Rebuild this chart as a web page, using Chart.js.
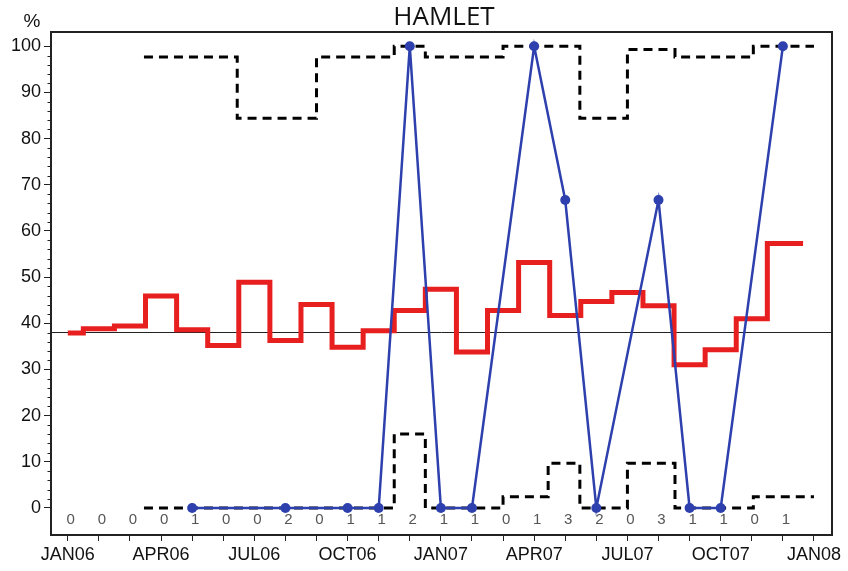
<!DOCTYPE html>
<html><head><meta charset="utf-8">
<script src="https://cdn.jsdelivr.net/npm/chart.js@4"></script>
<style>html,body{margin:0;padding:0;background:#fff}canvas{display:block}</style>
</head><body>
<canvas id="c" width="848" height="571"></canvas>
<script>
// month index 0 = JAN06 ... 23 = DEC07
const months = [0,1,2,3,4,5,6,7,8,9,10,11,12,13,14,15,16,17,18,19,20,21,22,23];
const counts = [0,0,0,0,1,0,0,2,0,1,1,2,1,1,0,1,3,2,0,3,1,1,0,1];
const redRate = [37.9,38.8,39.4,45.9,38.6,35.2,48.9,36.3,44.1,34.8,38.4,42.8,47.4,33.8,42.8,53.2,41.7,44.7,46.7,43.8,31.0,34.3,41.0,57.3];
const redEndMonth = 23.65;
const bluePct = [null,null,null,null,0,null,null,0,null,0,0,100,0,0,null,100,66.7,0,null,66.7,0,0,null,100];
const limitBreaks = [2.45,5.45,8.0,10.5,11.5,14.0,15.45,16.47,18.0,19.53,22.05,24.0];
const upperLimit = [97.7,84.4,97.7,100,97.7,100,100,84.4,99.3,97.7,100];
const lowerLimit = [0,0,0,16.0,0,2.45,9.7,0,9.7,0,2.45];
const centreLine = 38.2;
const quarterLabels = ['JAN06','APR06','JUL06','OCT06','JAN07','APR07','JUL07','OCT07','JAN08'];
const titleText = 'HAMLET';
const yUnit = '%';

const BLUE = '#2d40ad';
const RED = '#e81f1f';
const TICKFONT = {family: "'Liberation Sans', Arial, sans-serif", size: 18};

function stepPoints(breaks, vals) {
  const pts = vals.map((v, i) => ({x: breaks[i], y: v}));
  pts.push({x: breaks[breaks.length - 1], y: vals[vals.length - 1]});
  return pts;
}
const bluePts = months.map((m, i) => ({x: m, y: bluePct[i]})).filter(p => p.y !== null);
const redPts = months.map((m, i) => ({x: m, y: redRate[i]}));
redPts.push({x: redEndMonth, y: redRate[redRate.length - 1]});

const decor = {
  id: 'decor',
  beforeDatasetsDraw(chart) {
    const {ctx, chartArea: a, scales: {y}} = chart;
    const yy = Math.round(y.getPixelForValue(centreLine)) + 0.5;
    ctx.save();
    ctx.strokeStyle = '#222';
    ctx.lineWidth = 1;
    ctx.beginPath(); ctx.moveTo(a.left, yy); ctx.lineTo(a.right, yy); ctx.stroke();
    ctx.restore();
  },
  afterDraw(chart) {
    const {ctx, chartArea: a, scales: {x, y}} = chart;
    ctx.save();
    ctx.strokeStyle = '#222';
    ctx.lineWidth = 2;
    ctx.strokeRect(a.left, a.top, a.right - a.left, a.bottom - a.top);
    ctx.lineWidth = 1;
    for (let v = 0; v <= 100; v += 2) {
      if (v % 10 === 0) continue;
      const py = Math.round(y.getPixelForValue(v)) + 0.5;
      ctx.beginPath(); ctx.moveTo(a.left - 3.5, py); ctx.lineTo(a.left, py); ctx.stroke();
    }
    ctx.fillStyle = '#555';
    ctx.font = "15px 'Liberation Sans', Arial, sans-serif";
    ctx.textAlign = 'center';
    ctx.textBaseline = 'middle';
    counts.forEach((c, i) => {
      ctx.fillText(String(c), x.getPixelForValue(months[i]) + 3, y.getPixelForValue(-2.6));
    });
    ctx.fillStyle = '#111';
    ctx.font = "26px 'Open Sans', sans-serif";
    ctx.textBaseline = 'alphabetic';
    ctx.fillText(titleText, 444, 25);
    ctx.font = "19px 'Liberation Sans', Arial, sans-serif";
    ctx.fillText(yUnit, 32, 27);
    ctx.restore();
  }
};

new Chart(document.getElementById('c'), {
  type: 'line',
  data: {
    datasets: [
      {data: bluePts, borderColor: BLUE, backgroundColor: BLUE, borderWidth: 2.5,
       pointRadius: 5, pointHoverRadius: 5, pointBackgroundColor: BLUE, pointBorderWidth: 0, tension: 0},
      {data: redPts, borderColor: RED, borderWidth: 5, stepped: 'middle', pointRadius: 0,
       borderJoinStyle: 'miter', borderCapStyle: 'butt'},
      {data: stepPoints(limitBreaks, upperLimit), borderColor: '#000', borderWidth: 3,
       borderDash: [9, 6], stepped: 'before', pointRadius: 0},
      {data: stepPoints(limitBreaks, lowerLimit), borderColor: '#000', borderWidth: 3,
       borderDash: [9, 6], stepped: 'before', pointRadius: 0}
    ]
  },
  options: {
    responsive: false,
    animation: false,
    events: [],
    layout: {padding: {top: 32, right: 16, bottom: 0, left: 0}},
    plugins: {legend: {display: false}, tooltip: {enabled: false}, title: {display: false}},
    scales: {
      x: {
        type: 'linear', min: -0.54, max: 24.58,
        border: {display: false},
        grid: {drawOnChartArea: false, drawTicks: true, tickLength: 6, color: '#222'},
        ticks: {stepSize: 1, includeBounds: false, autoSkip: false, maxRotation: 0, padding: 3,
          color: '#111', font: TICKFONT,
          callback: v => (v % 3 === 0 ? quarterLabels[v / 3] : '')},
        afterFit: s => { s.height = 36; }
      },
      y: {
        min: -5.85, max: 103.1,
        border: {display: false},
        grid: {drawOnChartArea: false, drawTicks: true, tickLength: 7, color: '#222'},
        ticks: {stepSize: 10, includeBounds: false, padding: 3, color: '#111', font: TICKFONT},
        afterFit: s => { s.width = 51; }
      }
    }
  },
  plugins: [decor]
});
</script>
</body></html>
